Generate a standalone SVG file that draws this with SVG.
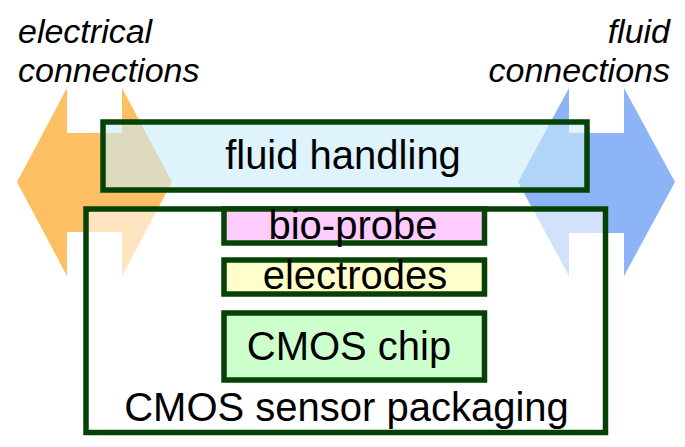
<svg xmlns="http://www.w3.org/2000/svg" width="685" height="447" viewBox="0 0 685 447">
  <style>
    text { font-family: "Liberation Sans", Arial, sans-serif; fill: #000; }
    .lbl { font-size: 40px; text-anchor: middle; }
    .side { font-size: 34px; font-style: italic; }
    .box { stroke: #064206; stroke-width: 5.5; }
  </style>
  <rect width="685" height="447" fill="#ffffff"/>
  <g id="connectors">
    <polygon id="electrical-arrow" points="17,182 67,88 67,133 122,133 122,88 172,182 122,276 122,232 67,232 67,276" fill="#FDBF63"/>
    <polygon id="fluid-arrow" points="518,182 569,88 569,133 624,133 624,88 675,182 624,276 624,233 569,233 569,276" fill="#8EB4F8"/>
  </g>
  <g id="electrical-connections">
    <text class="side" x="18" y="43">electrical</text>
    <text class="side" x="18" y="82">connections</text>
  </g>
  <g id="fluid-connections">
    <text class="side" x="670" y="43" text-anchor="end">fluid</text>
    <text class="side" x="670" y="82" text-anchor="end">connections</text>
  </g>
  <g id="fluid-handling">
    <rect class="box" x="103" y="122" width="484" height="68" fill="#C8EBFA" fill-opacity="0.6" stroke-width="6"/>
    <text class="lbl" x="343" y="169">fluid handling</text>
  </g>
  <g id="cmos-sensor-packaging">
    <rect class="box" x="86" y="209" width="519.5" height="223.5" fill="#ffffff" fill-opacity="0.6"/>
    <text class="lbl" x="346.5" y="421">CMOS sensor packaging</text>
  </g>
  <g id="bio-probe">
    <rect class="box" x="224" y="209" width="260.5" height="34" fill="#FFCCFF"/>
    <text class="lbl" x="353" y="239">bio-probe</text>
  </g>
  <g id="electrodes">
    <rect class="box" x="224" y="260" width="260.5" height="34" fill="#FFFFCC"/>
    <text class="lbl" x="355" y="289">electrodes</text>
  </g>
  <g id="cmos-chip">
    <rect class="box" x="224" y="313" width="260.5" height="67" fill="#CCFFCC"/>
    <text class="lbl" x="349" y="360">CMOS chip</text>
  </g>
</svg>
